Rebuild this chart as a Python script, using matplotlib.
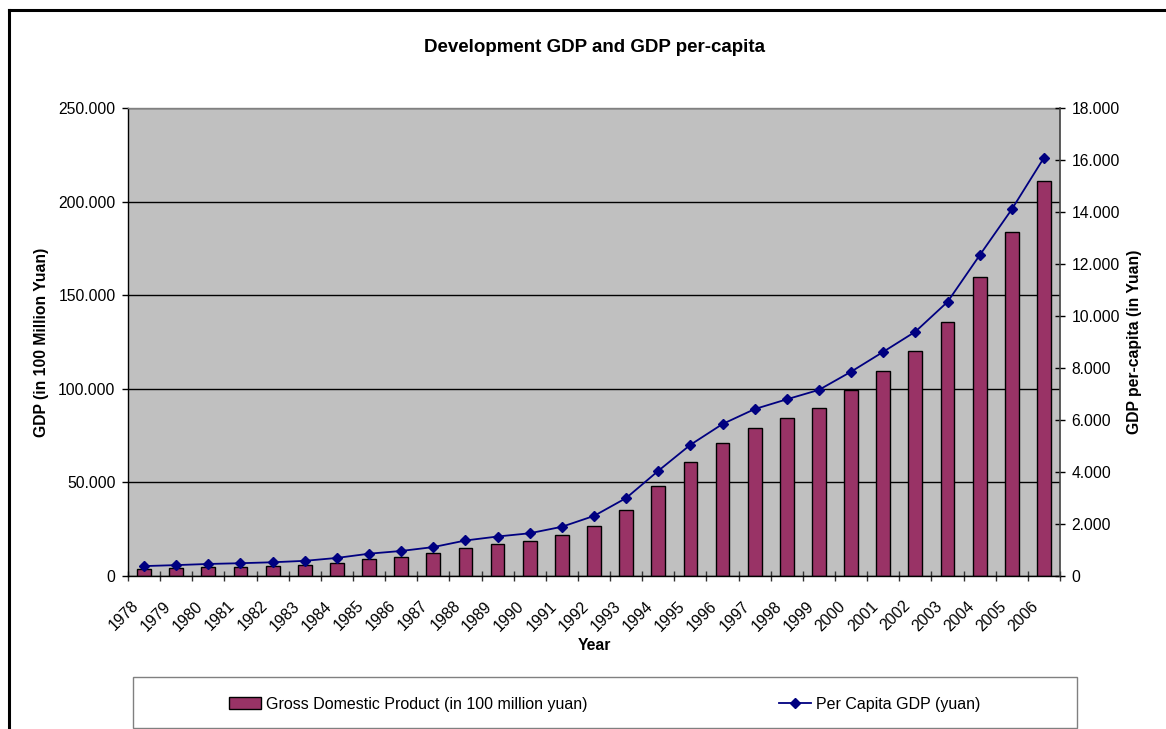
import matplotlib
matplotlib.use("Agg")
import numpy as np
import matplotlib.pyplot as plt
from matplotlib.ticker import FuncFormatter, MultipleLocator, FixedLocator
from matplotlib.transforms import ScaledTranslation
from matplotlib.lines import Line2D
from matplotlib.patches import Rectangle, Patch

plt.rcParams['font.family'] = ['Liberation Sans', 'DejaVu Sans']

# China: GDP (100 million yuan) and GDP per capita (yuan), 1978-2006
years = ['1978', '1979', '1980', '1981', '1982', '1983', '1984', '1985',
         '1986', '1987', '1988', '1989', '1990', '1991', '1992', '1993',
         '1994', '1995', '1996', '1997', '1998', '1999', '2000', '2001',
         '2002', '2003', '2004', '2005', '2006']
gdp = [3645.2, 4062.6, 4545.6, 4891.6, 5323.4, 5962.7, 7208.1, 9016.0,
       10275.2, 12058.6, 15042.8, 16992.3, 18667.8, 21781.5, 26923.5,
       35333.9, 48197.9, 60793.7, 71176.6, 78973.0, 84402.3, 89677.1,
       99214.6, 109655.2, 120332.7, 135822.8, 159878.3, 183867.9, 210871.0]
gdp_per_capita = [381, 419, 463, 492, 528, 583, 695, 858, 963, 1112, 1366,
                  1519, 1644, 1893, 2311, 2998, 4044, 5046, 5846, 6420, 6796,
                  7159, 7858, 8622, 9398, 10542, 12336, 14103, 16084]

BAR_COLOR = '#993366'
LINE_COLOR = '#000080'
W, H = 1166, 729

fig = plt.figure(figsize=(W / 100, H / 100), dpi=100)
ax = fig.add_axes([128 / W, 1 - 576 / H, 932 / W, 468 / H])
ax.set_facecolor('#C0C0C0')
ax.set_axisbelow(True)

x = np.arange(len(years))
ax.bar(x, gdp, width=0.43, color=BAR_COLOR, edgecolor='black',
       linewidth=1.0, zorder=2)

thousands = FuncFormatter(lambda v, p: f"{int(round(v)):,}".replace(",", "."))

ax.set_xlim(-0.5, len(years) - 0.5)
ax.set_ylim(0, 250000)
ax.yaxis.set_major_locator(MultipleLocator(50000))
ax.yaxis.set_major_formatter(thousands)
ax.yaxis.grid(True, color='black', linewidth=1.0)
ax.tick_params(axis='y', direction='out', length=4, width=1, pad=5,
               labelsize=11.3, colors='black')

# category labels at bar centres, tick marks between categories
ax.set_xticks(x)
ax.set_xticklabels(years, rotation=45, ha='right', va='top',
                   rotation_mode='anchor')
ax.xaxis.set_minor_locator(FixedLocator(np.arange(len(years) + 1) - 0.5))
ax.tick_params(axis='x', which='major', length=0, pad=16, labelsize=11.3)
ax.tick_params(axis='x', which='minor', direction='inout', length=7.2,
               width=1, color='#333333')
shift = ScaledTranslation(-0.13, 0, fig.dpi_scale_trans)
for lab in ax.get_xticklabels():
    lab.set_transform(lab.get_transform() + shift)

for side in ('left', 'bottom'):
    ax.spines[side].set_color('black')
    ax.spines[side].set_linewidth(1.0)
ax.spines['top'].set_color('#808080')
ax.spines['top'].set_linewidth(1.0)
ax.spines['right'].set_visible(False)

ax2 = ax.twinx()
ax2.plot(x, gdp_per_capita, color=LINE_COLOR, linewidth=1.3, marker='D',
         markersize=4.6, zorder=3)
ax2.set_ylim(0, 18000)
ax2.yaxis.set_major_locator(MultipleLocator(2000))
ax2.yaxis.set_major_formatter(thousands)
ax2.tick_params(axis='y', direction='inout', length=6.5, width=1, pad=5,
                labelsize=11.3, colors='black')
for side in ('left', 'top', 'bottom'):
    ax2.spines[side].set_visible(False)
ax2.spines['right'].set_color('#404040')
ax2.spines['right'].set_linewidth(1.2)

ax.set_title('Development GDP and GDP per-capita', fontsize=13.5,
             fontweight='bold', y=1 + (108 - 47) / 468, va='center', pad=0)
ax.set_xlabel('Year', fontsize=11.3, fontweight='bold', va='center')
ax.xaxis.set_label_coords(0.5, -(646 - 576) / 468)
ax.set_ylabel('GDP (in 100 Million Yuan)', fontsize=11.3, fontweight='bold',
              va='center', ha='center')
ax.yaxis.set_label_coords((42 - 128) / 932, 0.5)
ax2.set_ylabel('GDP per-capita (in Yuan)', fontsize=11.3, fontweight='bold',
               va='center', ha='center', rotation=90)
ax2.yaxis.set_label_coords((1135 - 128) / 932, 0.5)

# legend box along the bottom
fig.add_artist(Rectangle((133 / W, 1 - 728 / H), (1077 - 133) / W,
                         (728 - 677) / H, transform=fig.transFigure,
                         fill=False, edgecolor='#808080', linewidth=1.0))
handles = [Patch(facecolor=BAR_COLOR, edgecolor='black', linewidth=1.0),
           Line2D([], [], color=LINE_COLOR, linewidth=1.3, marker='D',
                  markersize=4.6)]
fig.legend(handles, ['Gross Domestic Product (in 100 million yuan)',
                     'Per Capita GDP (yuan)'],
           loc='center', bbox_to_anchor=(605 / W, 1 - 704 / H), ncol=2,
           frameon=False, fontsize=11.5, handlelength=2.0,
           handletextpad=0.3, columnspacing=12.0)

# outer chart border (left and top edges)
fig.add_artist(Line2D([9 / W, 9 / W], [0, 1 - 10 / H], color='black',
                      linewidth=2.2, transform=fig.transFigure))
fig.add_artist(Line2D([9 / W, 1], [1 - 10 / H, 1 - 10 / H], color='black',
                      linewidth=2.2, transform=fig.transFigure))

fig.savefig('out.png', dpi=100)
